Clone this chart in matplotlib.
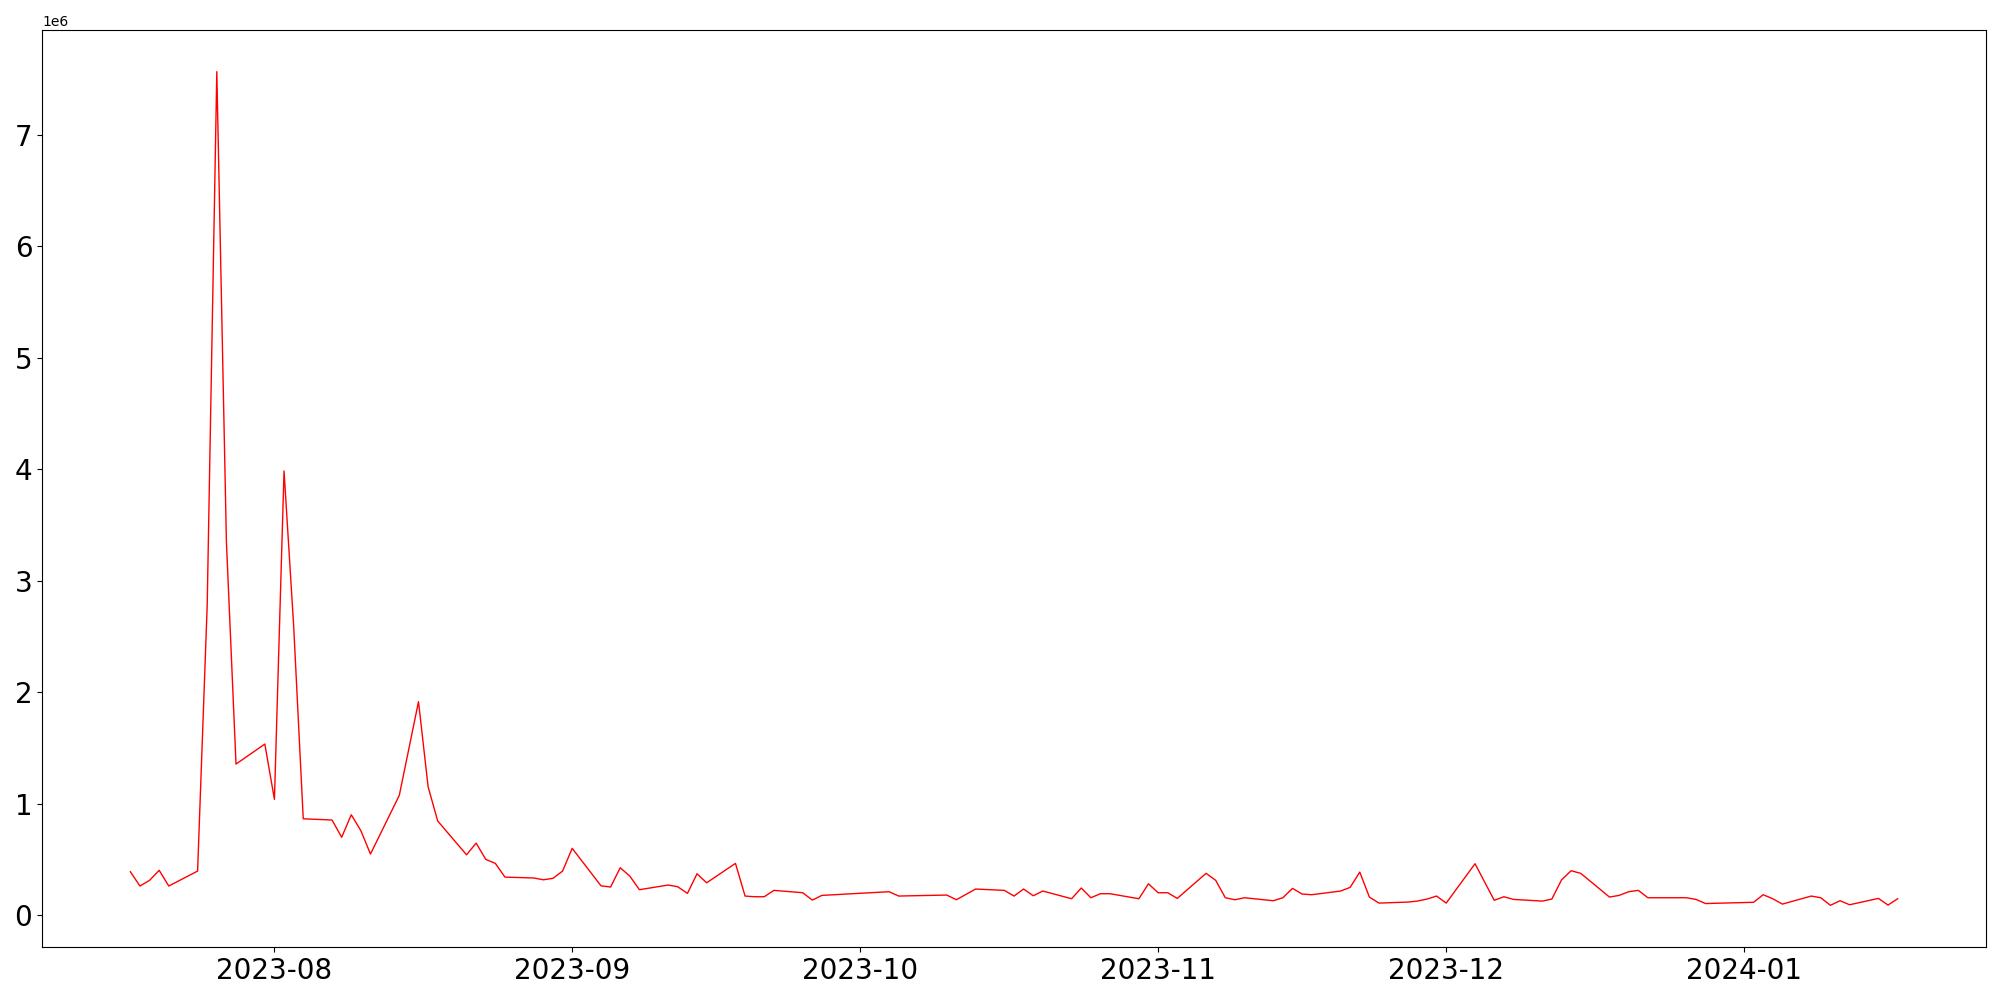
import matplotlib
matplotlib.use('Agg')
import matplotlib.pyplot as plt
import pandas as pd

dates = [
    '2023-07-17', '2023-07-18', '2023-07-19', '2023-07-20', '2023-07-21',
    '2023-07-24', '2023-07-25', '2023-07-26', '2023-07-27', '2023-07-28',
    '2023-07-31', '2023-08-01', '2023-08-02', '2023-08-03', '2023-08-04',
    '2023-08-07', '2023-08-08', '2023-08-09', '2023-08-10', '2023-08-11',
    '2023-08-14', '2023-08-16', '2023-08-17', '2023-08-18',
    '2023-08-21', '2023-08-22', '2023-08-23', '2023-08-24', '2023-08-25',
    '2023-08-28', '2023-08-29', '2023-08-30', '2023-08-31', '2023-09-01',
    '2023-09-04', '2023-09-05', '2023-09-06', '2023-09-07', '2023-09-08',
    '2023-09-11', '2023-09-12', '2023-09-13', '2023-09-14', '2023-09-15',
    '2023-09-18', '2023-09-19', '2023-09-20', '2023-09-21', '2023-09-22',
    '2023-09-25', '2023-09-26', '2023-09-27',
    '2023-10-04', '2023-10-05', '2023-10-06',
    '2023-10-10', '2023-10-11', '2023-10-12', '2023-10-13',
    '2023-10-16', '2023-10-17', '2023-10-18', '2023-10-19', '2023-10-20',
    '2023-10-23', '2023-10-24', '2023-10-25', '2023-10-26', '2023-10-27',
    '2023-10-30', '2023-10-31', '2023-11-01', '2023-11-02', '2023-11-03',
    '2023-11-06', '2023-11-07', '2023-11-08', '2023-11-09', '2023-11-10',
    '2023-11-13', '2023-11-14', '2023-11-15', '2023-11-16', '2023-11-17',
    '2023-11-20', '2023-11-21', '2023-11-22', '2023-11-23', '2023-11-24',
    '2023-11-27', '2023-11-28', '2023-11-29', '2023-11-30', '2023-12-01',
    '2023-12-04', '2023-12-05', '2023-12-06', '2023-12-07', '2023-12-08',
    '2023-12-11', '2023-12-12', '2023-12-13', '2023-12-14', '2023-12-15',
    '2023-12-18', '2023-12-19', '2023-12-20', '2023-12-21', '2023-12-22',
    '2023-12-26', '2023-12-27', '2023-12-28',
    '2024-01-02', '2024-01-03', '2024-01-04', '2024-01-05',
    '2024-01-08', '2024-01-09', '2024-01-10', '2024-01-11', '2024-01-12',
    '2024-01-15', '2024-01-16', '2024-01-17',
]

volume = [
    391000, 263000, 314000, 404000, 263000,
    397000, 2780000, 7566000, 3350000, 1357000,
    1536000, 1040000, 3985000, 2600000, 866000,
    855000, 700000, 902000, 759000, 550000,
    1076000, 1916000, 1153000, 846000,
    543000, 648000, 502000, 466000, 343000,
    335000, 319000, 332000, 397000, 601000,
    265000, 254000, 427000, 352000, 230000,
    272000, 256000, 197000, 373000, 292000,
    466000, 173000, 167000, 167000, 224000,
    203000, 137000, 179000,
    212000, 173000, 175000,
    182000, 140000, 188000, 236000,
    224000, 173000, 236000, 176000, 218000,
    149000, 245000, 158000, 194000, 194000,
    149000, 283000, 203000, 203000, 152000,
    377000, 314000, 158000, 140000, 158000,
    131000, 158000, 242000, 191000, 185000,
    218000, 251000, 388000, 164000, 110000,
    119000, 128000, 146000, 173000, 110000,
    463000, 299000, 135000, 167000, 143000,
    128000, 146000, 317000, 400000, 377000,
    164000, 179000, 212000, 224000, 158000,
    158000, 143000, 106000,
    117000, 185000, 149000, 101000,
    173000, 158000, 90000, 131000, 95000,
    152000, 92000, 149000,
]

df = pd.DataFrame({'Volume': volume}, index=pd.to_datetime(dates))

fig, ax = plt.subplots(figsize=(20, 10), dpi=100)
ax.plot(df.index, df['Volume'], color='red', linewidth=1.0)
ax.tick_params(axis='both', labelsize=20)
fig.subplots_adjust(left=0.021, right=0.993, bottom=0.053, top=0.970)

fig.savefig('out.png')
